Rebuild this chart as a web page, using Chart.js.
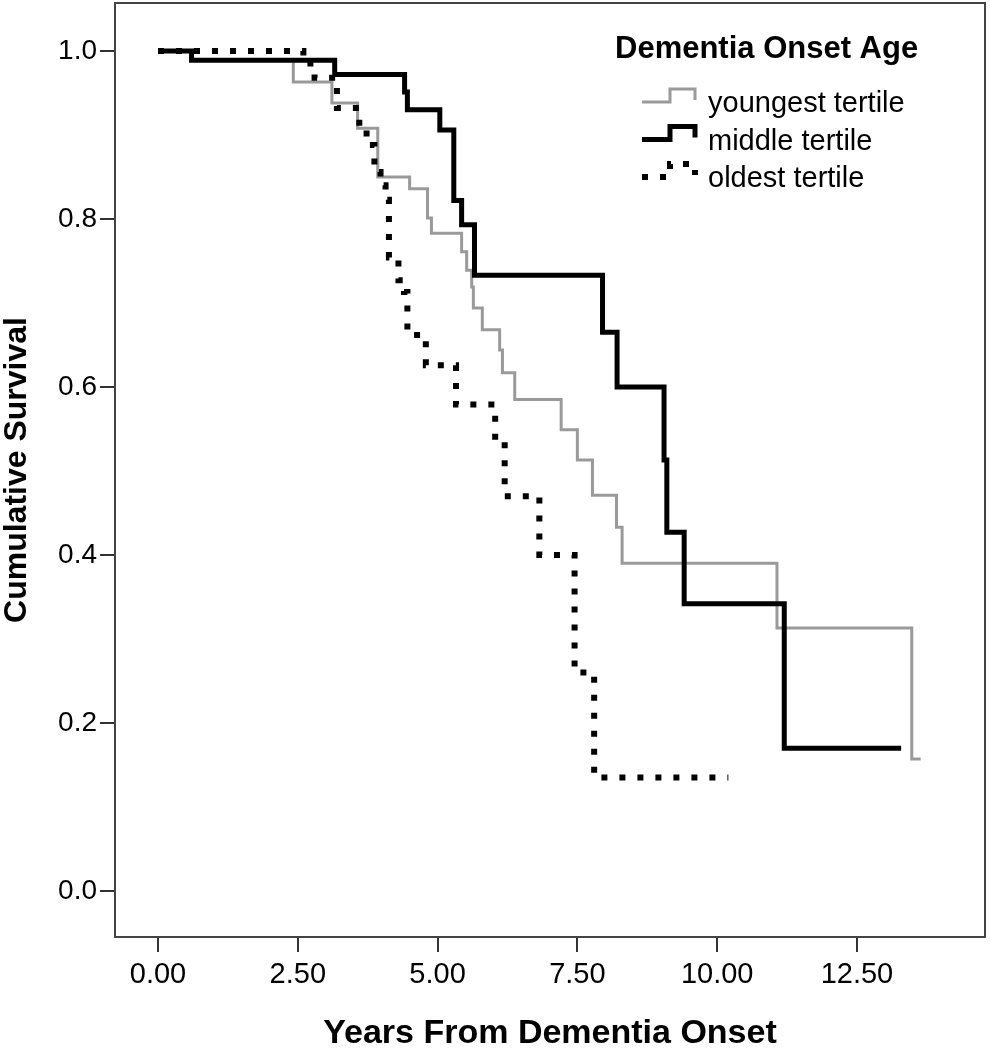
<!DOCTYPE html>
<html>
<head>
<meta charset="utf-8">
<title>Cumulative Survival by Dementia Onset Age</title>
<script src="https://cdn.jsdelivr.net/npm/chart.js@4.4.1/dist/chart.umd.min.js"></script>
<style>
  body { margin: 0; background: #fff; }
  #wrap { width: 990px; height: 1050px; }
</style>
</head>
<body>
<div id="wrap"><canvas id="survivalChart" width="990" height="1050"></canvas></div>
<script>
// Kaplan-Meier steps:
// year where the curve drops, and survival after that drop (last entry = end of follow-up)
const youngestYears = [0, 0.6, 2.42, 3.11, 3.57, 3.93, 4.5, 4.82, 4.89, 5.43, 5.52, 5.61, 5.64, 5.80, 6.11, 6.16, 6.38, 7.21, 7.5, 7.77, 8.2, 8.3, 11.07, 13.48, 13.64];
const youngestSurv  = [1.0, 0.989, 0.963, 0.938, 0.908, 0.85, 0.836, 0.801, 0.783, 0.761, 0.739, 0.719, 0.694, 0.668, 0.644, 0.617, 0.585, 0.549, 0.513, 0.471, 0.433, 0.39, 0.313, 0.157, 0.157];

const middleYears = [0, 0.6, 3.16, 4.41, 4.46, 5.04, 5.29, 5.43, 5.66, 7.95, 8.21, 9.05, 9.1, 9.41, 11.2, 13.29];
const middleSurv  = [1.0, 0.989, 0.972, 0.951, 0.93, 0.906, 0.822, 0.793, 0.733, 0.665, 0.6, 0.513, 0.427, 0.342, 0.17, 0.17];

const oldestYears = [0, 2.6, 2.8, 3.2, 3.6, 3.73, 3.87, 3.98, 4.07, 4.13, 4.3, 4.4, 4.46, 4.79, 5.33, 6.03, 6.2, 6.82, 7.45, 7.8, 10.2];
const oldestSurv  = [1.0, 0.985, 0.968, 0.932, 0.908, 0.888, 0.856, 0.84, 0.823, 0.754, 0.727, 0.713, 0.662, 0.626, 0.579, 0.537, 0.47, 0.4, 0.26, 0.135, 0.135];

const seriesLabels = ['youngest tertile', 'middle tertile', 'oldest tertile'];
const xTickValues = [0, 2.5, 5, 7.5, 10, 12.5];
const yTickValues = [0, 0.2, 0.4, 0.6, 0.8, 1.0];
const legendTitle = 'Dementia Onset Age';

const FONT = '"Liberation Sans", Arial, sans-serif';

function toPoints(xs, ys) {
    return xs.map((x, i) => ({ x: x, y: ys[i] }));
}

// Box around the plot area
const frameBox = {
    id: 'frameBox',
    afterDraw(chart) {
        const { ctx, chartArea: a } = chart;
        ctx.save();
        ctx.strokeStyle = '#444';
        ctx.lineWidth = 2;
        ctx.strokeRect(a.left, a.top, a.right - a.left, a.bottom - a.top);
        ctx.restore();
    }
};

// Legend with step-shaped samples, drawn inside the plot
const stepLegend = {
    id: 'stepLegend',
    afterDraw(chart) {
        const ctx = chart.ctx;
        ctx.save();
        ctx.fillStyle = '#000';
        ctx.textBaseline = 'alphabetic';
        ctx.font = 'bold 31px ' + FONT;
        ctx.fillText(legendTitle, 615, 58);
        ctx.font = '29px ' + FONT;

        chart.data.datasets.forEach((ds, i) => {
            const base = 112 + i * 37.5;
            const low = base - 10;
            const high = base - 23;
            ctx.beginPath();
            ctx.moveTo(642, low);
            ctx.lineTo(670, low);
            ctx.lineTo(670, high);
            ctx.lineTo(695, high);
            ctx.lineTo(695, low - 2);
            ctx.strokeStyle = ds.borderColor;
            ctx.lineWidth = ds.borderWidth;
            ctx.setLineDash(ds.borderDash || []);
            ctx.stroke();
            ctx.setLineDash([]);
            ctx.fillText(ds.label, 708, base);
        });
        ctx.restore();
    }
};

new Chart(document.getElementById('survivalChart'), {
    type: 'line',
    data: {
        datasets: [
            {
                label: seriesLabels[0],
                data: toPoints(youngestYears, youngestSurv),
                borderColor: '#9a9a9a',
                borderWidth: 3,
                stepped: 'before',
                pointRadius: 0,
                order: 3
            },
            {
                label: seriesLabels[1],
                data: toPoints(middleYears, middleSurv),
                borderColor: '#000',
                borderWidth: 5,
                stepped: 'before',
                pointRadius: 0,
                order: 2
            },
            {
                label: seriesLabels[2],
                data: toPoints(oldestYears, oldestSurv),
                borderColor: '#000',
                borderWidth: 6,
                borderDash: [6, 12],
                stepped: 'before',
                pointRadius: 0,
                order: 1
            }
        ]
    },
    options: {
        responsive: false,
        animation: false,
        layout: { padding: { top: 3, right: 5, left: 0, bottom: 0 } },
        plugins: {
            legend: { display: false },
            tooltip: { enabled: false }
        },
        scales: {
            x: {
                type: 'linear',
                min: -0.769,
                max: 14.79,
                afterBuildTicks: scale => { scale.ticks = xTickValues.map(v => ({ value: v })); },
                afterFit: scale => {
                    scale.height = 113;
                    scale.paddingLeft = 0;
                    scale.paddingRight = 0;
                },
                grid: { drawOnChartArea: false, drawTicks: true, tickLength: 15, color: '#333', lineWidth: 2 },
                border: { display: true, color: '#333', width: 2 },
                ticks: {
                    padding: 6,
                    color: '#000',
                    font: { family: FONT, size: 29 },
                    callback: v => v.toFixed(2)
                },
                title: {
                    display: true,
                    text: 'Years From Dementia Onset',
                    color: '#000',
                    font: { family: FONT, size: 34, weight: 'bold', lineHeight: 0.95 },
                    padding: { top: 0, bottom: 0 }
                }
            },
            y: {
                type: 'linear',
                min: -0.0548,
                max: 1.0571,
                afterBuildTicks: scale => { scale.ticks = yTickValues.map(v => ({ value: v })); },
                afterFit: scale => {
                    scale.width = 115;
                    scale.paddingTop = 0;
                    scale.paddingBottom = 0;
                },
                grid: { drawOnChartArea: false, drawTicks: true, tickLength: 15, color: '#333', lineWidth: 2 },
                border: { display: true, color: '#333', width: 2 },
                ticks: {
                    padding: 3,
                    color: '#000',
                    font: { family: FONT, size: 28 },
                    callback: v => v.toFixed(1)
                },
                title: {
                    display: true,
                    text: 'Cumulative Survival',
                    color: '#000',
                    font: { family: FONT, size: 32, weight: 'bold', lineHeight: 1.1 },
                    padding: { top: 0, bottom: 0 }
                }
            }
        }
    },
    plugins: [frameBox, stepLegend]
});
</script>
</body>
</html>
